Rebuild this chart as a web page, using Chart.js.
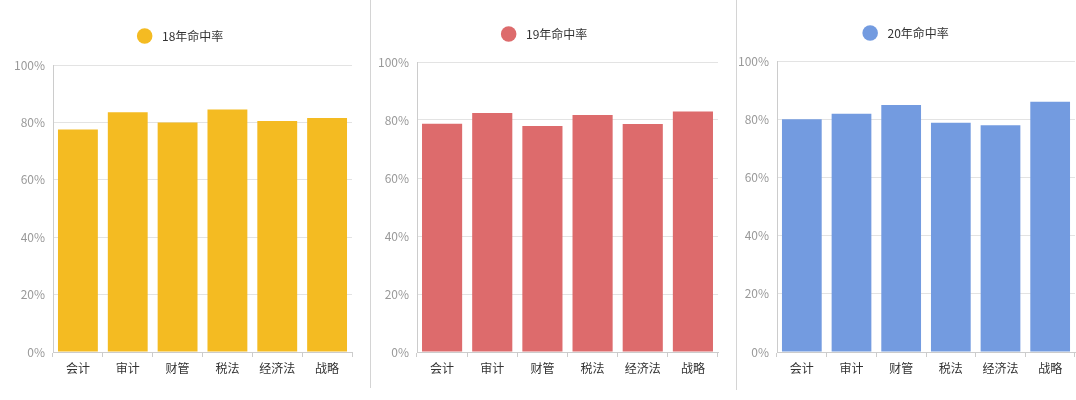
<!DOCTYPE html>
<html>
<head>
<meta charset="utf-8">
<script src="https://cdn.jsdelivr.net/npm/chart.js@4"></script>
<style>
  html, body { margin: 0; padding: 0; background: #fff; }
  #wrap { position: relative; width: 1076px; height: 400px; overflow: hidden; }
  .panel { position: absolute; top: 0; height: 400px; }
  .divider { position: absolute; top: 0; width: 1px; background: #d4d4d4; }
</style>
</head>
<body>
<div id="wrap">
  <div class="panel" style="left:0;width:370px"><canvas id="c18" width="370" height="400"></canvas></div>
  <div class="divider" style="left:370px;height:388px"></div>
  <div class="panel" style="left:372px;width:363px"><canvas id="c19" width="363" height="400"></canvas></div>
  <div class="divider" style="left:736px;height:390px"></div>
  <div class="panel" style="left:738px;width:338px"><canvas id="c20" width="338" height="400"></canvas></div>
</div>
<script>
// ---- Data ----
const categories = ["会计", "审计", "财管", "税法", "经济法", "战略"];
const rate18 = [77.5, 83.5, 80, 84.5, 80.5, 81.5];
const rate19 = [78.7, 82.4, 77.9, 81.7, 78.6, 82.9];
const rate20 = [80, 81.9, 84.9, 78.8, 77.9, 86];
const yTicks = [0, 20, 40, 60, 80, 100];

const FONT = "'Noto Sans CJK SC', 'Noto Sans', sans-serif";

// extra space under the legend
function legendGap(extra) {
  return {
    id: "legendGap",
    beforeInit(chart) {
      const fit = chart.legend.fit;
      chart.legend.fit = function () {
        fit.bind(chart.legend)();
        this.height += extra;
      };
    },
  };
}

// ---- Build one panel ----
function makeChart(id, label, data, color, layout) {
  const ctx = document.getElementById(id);
  return new Chart(ctx, {
    type: "bar",
    data: {
      labels: categories,
      datasets: [
        {
          label: label,
          data: data,
          backgroundColor: color,
          borderWidth: 0,
          barPercentage: 0.8,
          categoryPercentage: 1.0,
        },
      ],
    },
    plugins: [legendGap(layout.gap)],
    options: {
      responsive: false,
      animation: false,
      devicePixelRatio: 1,
      layout: {
        padding: { top: layout.top, right: layout.right, bottom: 18, left: layout.left },
      },
      plugins: {
        legend: {
          display: true,
          position: "top",
          labels: {
            usePointStyle: true,
            pointStyle: "circle",
            boxWidth: 12,
            boxHeight: 11,
            padding: 10,
            color: "#333",
            font: { family: FONT, size: 12 },
            generateLabels: function (chart) {
              const items = Chart.defaults.plugins.legend.labels.generateLabels(chart);
              items.forEach((it) => (it.text = "  " + it.text));
              return items;
            },
          },
        },
        tooltip: { enabled: false },
      },
      scales: {
        x: {
          grid: {
            offset: true,
            drawOnChartArea: false,
            drawTicks: true,
            tickLength: 5,
            color: "#cccccc",
          },
          border: { color: "#cccccc" },
          ticks: {
            color: "#333",
            padding: 4,
            font: { family: FONT, size: 12 },
          },
          afterFit: function (scale) {
            scale.height = 30;
          },
        },
        y: {
          min: 0,
          max: 100,
          afterBuildTicks: function (scale) {
            scale.ticks = yTicks.map((v) => ({ value: v }));
          },
          grid: { color: "#e3e3e3", drawTicks: false },
          border: { color: "#cccccc" },
          ticks: {
            color: "#999",
            padding: 8,
            font: { family: FONT, size: 12 },
            callback: function (value) {
              return value + "%";
            },
          },
          afterFit: function (scale) {
            scale.width = layout.yWidth;
          },
        },
      },
    },
  });
}

makeChart("c18", "18年命中率", rate18, "#F4BB22", { top: 20, right: 18, left: 10, yWidth: 43, gap: 13 });
makeChart("c19", "19年命中率", rate19, "#DD6B6C", { top: 18, right: 17, left: 0, yWidth: 45, gap: 12 });
makeChart("c20", "20年命中率", rate20, "#739BE0", { top: 17, right: 1, left: 0, yWidth: 39, gap: 12 });
</script>
</body>
</html>
